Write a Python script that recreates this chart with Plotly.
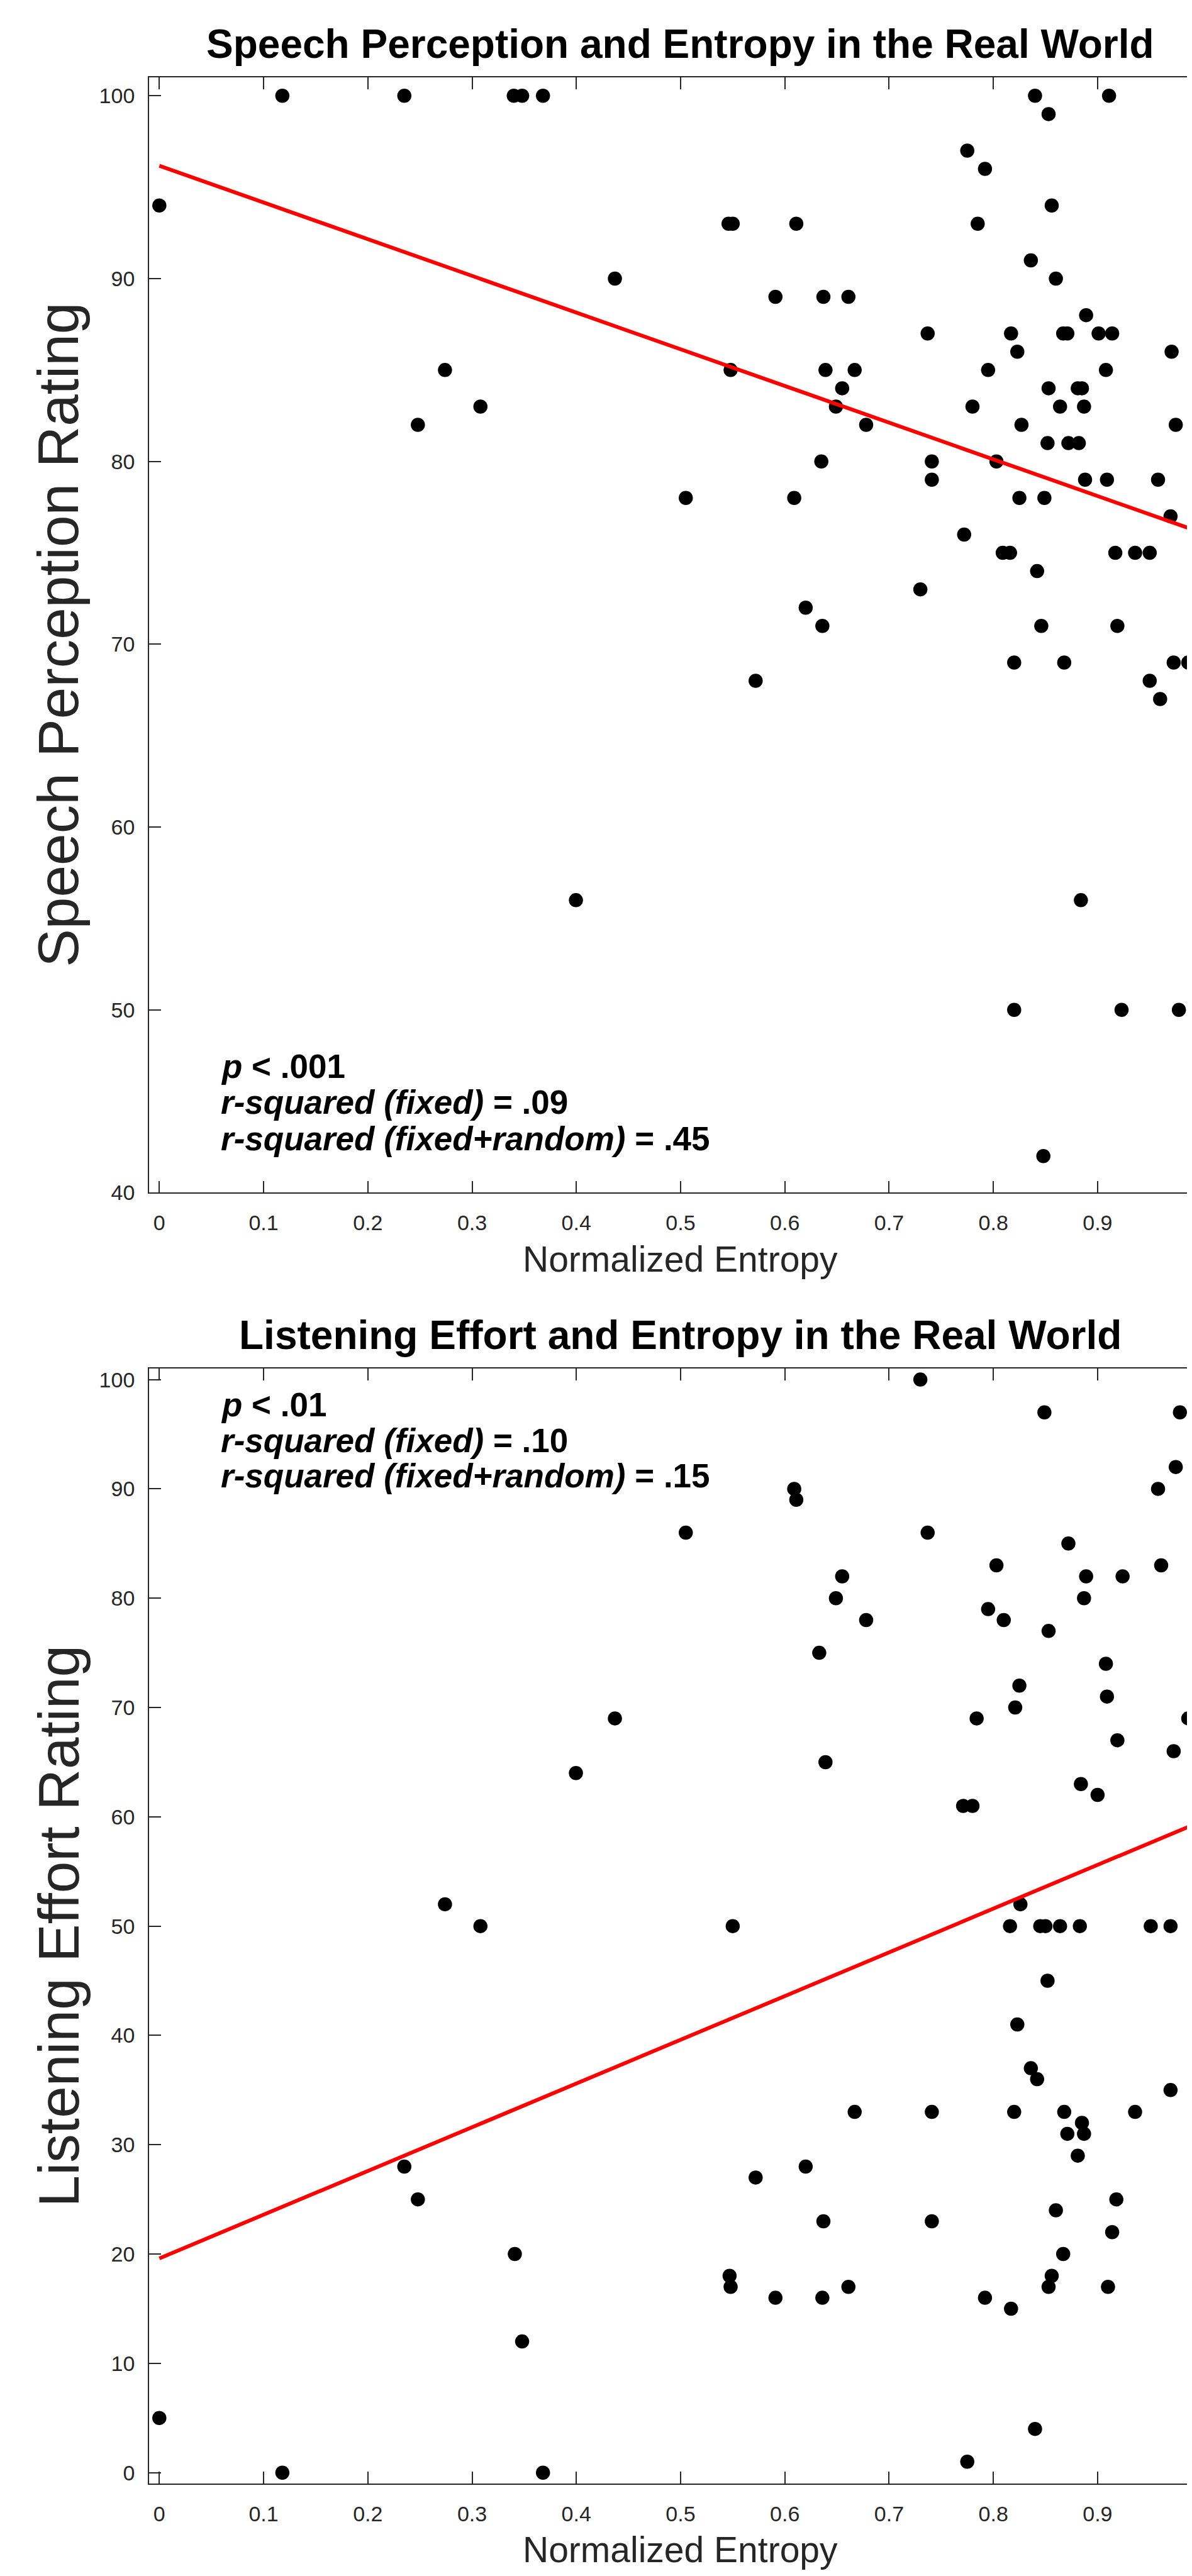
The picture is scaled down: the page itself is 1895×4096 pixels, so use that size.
import plotly.graph_objects as go

# ---------------- data ----------------
entropy_sp = [0.000, 0.118, 0.235, 0.340, 0.348, 0.368, 0.274, 0.248, 0.308, 0.3996,
              0.437, 0.505, 0.546, 0.550, 0.548, 0.572, 0.591, 0.609, 0.611, 0.620,
              0.635, 0.636, 0.637, 0.639, 0.649, 0.655, 0.661, 0.667, 0.678, 0.730,
              0.737, 0.741, 0.741, 0.772, 0.775, 0.780, 0.785, 0.792, 0.795, 0.803,
              0.809, 0.816, 0.817, 0.820, 0.820, 0.823, 0.825, 0.827, 0.836, 0.840,
              0.842, 0.846, 0.848, 0.849, 0.852, 0.853, 0.853, 0.856, 0.860, 0.864,
              0.867, 0.871, 0.868, 0.872, 0.881, 0.885, 0.882, 0.884, 0.887, 0.888,
              0.889, 0.901, 0.908, 0.909, 0.911, 0.914, 0.917, 0.919, 0.923, 0.936,
              0.950, 0.950, 0.958, 0.960, 0.970, 0.971, 0.973, 0.975, 0.978, 0.987,
              1.000]
speech_perception = [94, 100, 100, 100, 100, 100, 85, 82, 83, 56,
                     90, 78, 93, 93, 85, 68, 89, 78, 93, 72,
                     80, 71, 89, 85, 83, 84, 89, 85, 82, 73,
                     87, 80, 79, 76, 97, 83, 93, 96, 85, 80,
                     75, 75, 87, 69, 50, 86, 78, 82, 91, 100,
                     74, 71, 42, 78, 81, 84, 99, 94, 90, 83,
                     87, 87, 69, 81, 84, 84, 81, 56, 83, 79,
                     88, 87, 85, 79, 100, 87, 75, 71, 50, 75,
                     75, 68, 79, 67, 77, 86, 69, 82, 50, 69,
                     78]

entropy_le = [0.000, 0.118, 0.235, 0.248, 0.274, 0.308, 0.341, 0.348, 0.368, 0.3996,
              0.437, 0.505, 0.547, 0.548, 0.550, 0.572, 0.591, 0.609, 0.611, 0.620,
              0.633, 0.636, 0.637, 0.639, 0.649, 0.655, 0.661, 0.667, 0.678, 0.730,
              0.737, 0.741, 0.741, 0.771, 0.775, 0.780, 0.784, 0.792, 0.795, 0.803,
              0.810, 0.816, 0.817, 0.820, 0.821, 0.823, 0.825, 0.826, 0.836, 0.840,
              0.842, 0.845, 0.849, 0.850, 0.852, 0.853, 0.853, 0.856, 0.860, 0.864,
              0.867, 0.868, 0.871, 0.872, 0.881, 0.883, 0.884, 0.885, 0.887, 0.887,
              0.889, 0.900, 0.908, 0.909, 0.910, 0.914, 0.918, 0.919, 0.924, 0.936,
              0.951, 0.958, 0.961, 0.970, 0.970, 0.973, 0.975, 0.979, 0.987, 1.000]
listening_effort = [5, 0, 28, 25, 52, 50, 20, 12, 0, 64,
                    69, 86, 18, 17, 50, 27, 16, 90, 89, 28,
                    75, 16, 23, 65, 80, 82, 17, 33, 78, 100,
                    86, 33, 23, 61, 1, 61, 69, 16, 79, 83,
                    78, 50, 15, 33, 70, 41, 72, 52, 37, 4,
                    36, 50, 97, 50, 45, 77, 17, 18, 24, 50,
                    20, 33, 31, 85, 29, 50, 63, 32, 80, 31,
                    82, 62, 74, 71, 17, 22, 25, 67, 82, 33,
                    50, 90, 83, 50, 35, 66, 92, 97, 69, 68]

fit_x = [0.0, 1.0]
fit_sp = [96.17, 76.1]
fit_le = [19.6, 59.6]

x_tickvals = [0, 0.1, 0.2, 0.3, 0.4, 0.5, 0.6, 0.7, 0.8, 0.9]
x_ticktext = ["0", "0.1", "0.2", "0.3", "0.4", "0.5", "0.6", "0.7", "0.8", "0.9"]
sp_tickvals = [40, 50, 60, 70, 80, 90, 100]
le_tickvals = [0, 10, 20, 30, 40, 50, 60, 70, 80, 90, 100]

sp_title = "Speech Perception and Entropy in the Real World"
le_title = "Listening Effort and Entropy in the Real World"
sp_ylabel = "Speech Perception Rating"
le_ylabel = "Listening Effort Rating"
xlabel = "Normalized Entropy"
sp_stats = ["<b><i>p</i> &lt; .001</b>",
            "<b><i>r-squared (fixed)</i> = .09</b>",
            "<b><i>r-squared (fixed+random)</i> = .45</b>"]
le_stats = ["<b><i>p</i> &lt; .01</b>",
            "<b><i>r-squared (fixed)</i> = .10</b>",
            "<b><i>r-squared (fixed+random)</i> = .15</b>"]

# ---------------- layout constants ----------------
W, H = 1895, 4096
FONT = "Liberation Sans, Arial, Helvetica, sans-serif"
AX = "#262626"

x_left = 228.9
top1, bot1 = 114.8, 1896.7
top2, bot2 = 2177.5, 3959.4

def py(px):
    return 1 - px / H

fig = go.Figure()

fig.add_trace(go.Scatter(x=entropy_sp, y=speech_perception, mode="markers",
                         marker=dict(color="black", size=22.5, line=dict(width=0)),
                         xaxis="x", yaxis="y", showlegend=False))
fig.add_trace(go.Scatter(x=fit_x, y=fit_sp, mode="lines",
                         line=dict(color="#ff0000", width=6),
                         xaxis="x", yaxis="y", showlegend=False))
fig.add_trace(go.Scatter(x=entropy_le, y=listening_effort, mode="markers",
                         marker=dict(color="black", size=22.5, line=dict(width=0)),
                         xaxis="x2", yaxis="y2", showlegend=False))
fig.add_trace(go.Scatter(x=fit_x, y=fit_le, mode="lines",
                         line=dict(color="#ff0000", width=6),
                         xaxis="x2", yaxis="y2", showlegend=False))

xcommon = dict(range=[-0.0099, 0.9954], domain=[x_left / W, 1.0],
               tickvals=x_tickvals, ticktext=x_ticktext,
               ticks="inside", ticklen=19, tickwidth=1.6, tickcolor=AX,
               showline=True, linecolor=AX, linewidth=1.6, mirror="ticks",
               showgrid=False, zeroline=False,
               tickfont=dict(family=FONT, size=34, color=AX),
               ticklabelstandoff=17)
ycommon = dict(ticks="inside", ticklen=19, tickwidth=1.6, tickcolor=AX,
               showline=True, linecolor=AX, linewidth=1.6, mirror=False,
               showgrid=False, zeroline=False,
               tickfont=dict(family=FONT, size=34, color=AX),
               ticklabelstandoff=14)

fig.update_layout(
    width=W, height=H,
    margin=dict(l=0, r=0, t=0, b=0),
    paper_bgcolor="white", plot_bgcolor="white",
    xaxis=dict(anchor="y", **xcommon),
    yaxis=dict(anchor="x", domain=[py(bot1), py(top1)], range=[40, 101.0],
               tickvals=sp_tickvals, **ycommon),
    xaxis2=dict(anchor="y2", **xcommon),
    yaxis2=dict(anchor="x2", domain=[py(bot2), py(top2)], range=[-1, 101.02],
                tickvals=le_tickvals, **ycommon),
)

ann = []
# titles
ann.append(dict(text="<b>" + sp_title + "</b>", xref="x", yref="paper", x=0.5, y=py(61.0),
                xanchor="center", yanchor="middle", showarrow=False,
                font=dict(family=FONT, size=64, color="black")))
ann.append(dict(text="<b>" + le_title + "</b>", xref="x2", yref="paper", x=0.5, y=py(2124.2),
                xanchor="center", yanchor="middle", showarrow=False,
                font=dict(family=FONT, size=64, color="black")))
# x labels
ann.append(dict(text=xlabel, xref="x", yref="paper", x=0.5, y=py(2002.4),
                xanchor="center", yanchor="middle", showarrow=False,
                font=dict(family=FONT, size=57, color=AX)))
ann.append(dict(text=xlabel, xref="x2", yref="paper", x=0.5, y=py(4064.7),
                xanchor="center", yanchor="middle", showarrow=False,
                font=dict(family=FONT, size=57, color=AX)))
# y labels
ann.append(dict(text=sp_ylabel, xref="paper", yref="paper", x=85 / W, y=py((top1 + bot1) / 2),
                xanchor="center", yanchor="middle", textangle=-90, showarrow=False,
                font=dict(family=FONT, size=91, color=AX)))
ann.append(dict(text=le_ylabel, xref="paper", yref="paper", x=85 / W, y=py((top2 + bot2) / 2),
                xanchor="center", yanchor="middle", textangle=-90, showarrow=False,
                font=dict(family=FONT, size=91, color=AX)))
# stats text
for t, yv in zip(sp_stats, [46.9, 44.95, 42.95]):
    ann.append(dict(text=t, xref="x", yref="y", x=0.058, y=yv, xanchor="left", yanchor="middle",
                    showarrow=False, font=dict(family=FONT, size=53, color="black")))
for t, yv in zip(le_stats, [97.7, 94.45, 91.2]):
    ann.append(dict(text=t, xref="x2", yref="y2", x=0.058, y=yv, xanchor="left", yanchor="middle",
                    showarrow=False, font=dict(family=FONT, size=53, color="black")))

fig.update_layout(annotations=ann)
fig.write_html("out.html")
